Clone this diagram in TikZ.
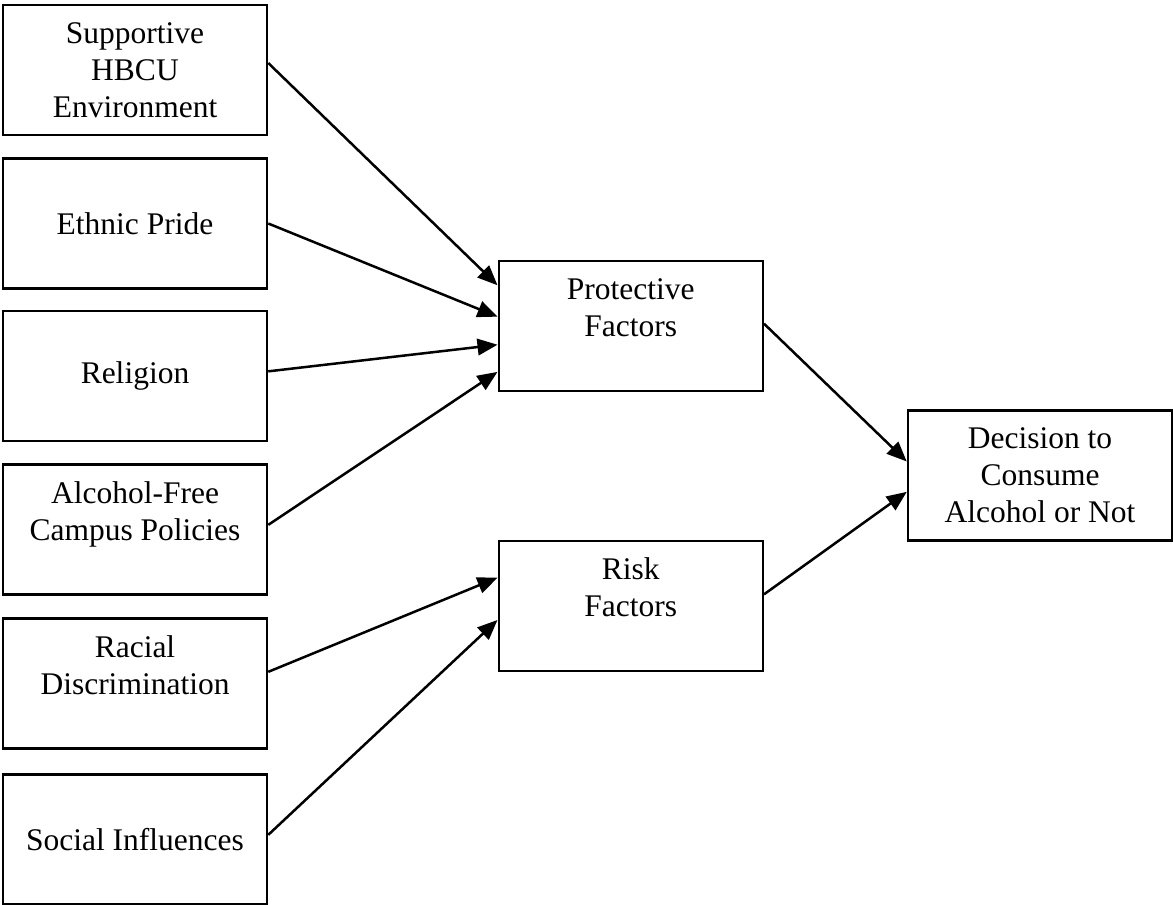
\documentclass[tikz,border=0pt]{standalone}
\usepackage{fontspec}
\setmainfont{Liberation Serif}
\usetikzlibrary{arrows.meta}

\begin{document}
\begin{tikzpicture}[x=0.4pt,y=-0.4pt,
  box/.style={draw=black,line width=1pt,minimum width=105.6pt,minimum height=52pt,
    inner sep=0pt,align=center,font=\fontsize{12.6}{14.8}\selectfont},
  arr/.style={black,line width=1pt,-{Triangle[length=8pt,width=6.6pt]}}]
\useasboundingbox (0,0) rectangle (1173,905);

% influences
\node[box] (sup) at (135,70) {Supportive\\HBCU\\Environment};
\node[box] (eth) at (135,223.5) {Ethnic Pride};
\node[box] (rel) at (135,376) {Religion};
\node[box] (alc) at (135,529.5) {Alcohol-Free\\Campus Policies\\\mbox{}};
\node[box] (rac) at (135,683.5) {Racial\\Discrimination\\\mbox{}};
\node[box] (soc) at (135,839.5) {Social Influences};

% factors and outcome
\node[box] (prot) at (630.75,326) {Protective\\Factors\\\mbox{}};
\node[box] (risk) at (630.75,606) {Risk\\Factors\\\mbox{}};
\node[box] (dec) at (1040,475.5) {Decision to\\Consume\\Alcohol or Not};

\draw[arr] (sup.3.5) -- (prot.163.6);
\draw[arr] (eth.0) -- (prot.176);
\draw[arr] (rel.2.6) -- (prot.188);
\draw[arr] (alc.2.4) -- (prot.199);
\draw[arr] (rac.5.8) -- (risk.168);
\draw[arr] (soc.2.8) -- (risk.186);

\draw[arr] (prot.1.7) -- (dec.174.6);
\draw[arr] (risk.5.2) -- (dec.187.5);
\end{tikzpicture}
\end{document}
